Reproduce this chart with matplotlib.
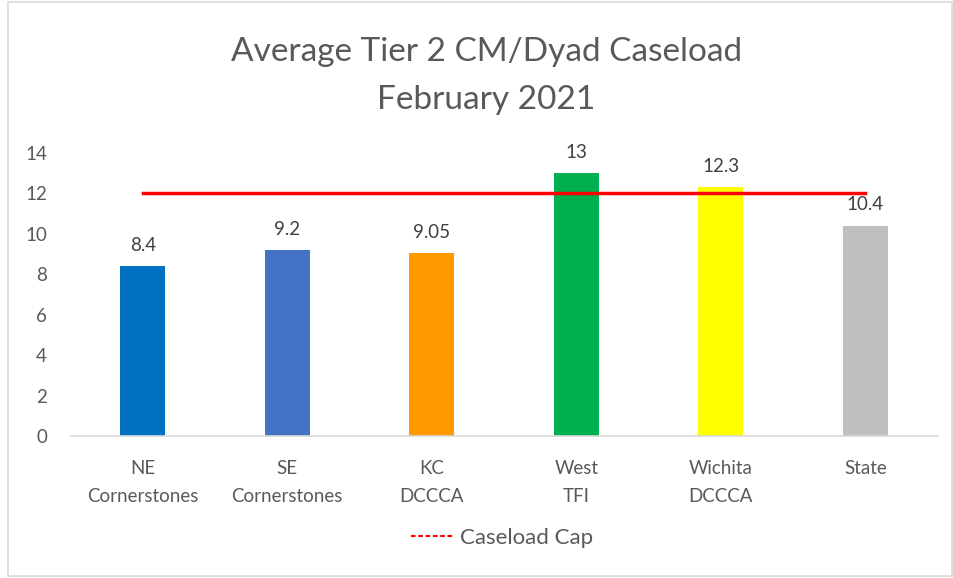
import matplotlib
matplotlib.use("Agg")
import matplotlib.pyplot as plt
from matplotlib.lines import Line2D
from matplotlib.patches import Rectangle

categories = ["NE\nCornerstones", "SE\nCornerstones", "KC\nDCCCA", "West\nTFI", "Wichita\nDCCCA", "State"]
values = [8.4, 9.2, 9.05, 13, 12.3, 10.4]
value_labels = ["8.4", "9.2", "9.05", "13", "12.3", "10.4"]
colors = ["#0070C0", "#4472C4", "#FF9900", "#00B050", "#FFFF00", "#BFBFBF"]
cap = 12
yticks = [0, 2, 4, 6, 8, 10, 12, 14]

plt.rcParams['font.family'] = ['Lato', 'DejaVu Sans']
txt = "#595959"

fig = plt.figure(figsize=(9.54, 5.78), dpi=100)
ax = fig.add_axes([0.0739, 0.2457, 0.909, 0.4900])

x = list(range(len(categories)))
ax.bar(x, values, width=0.31, color=colors, zorder=2)
for xi, v, lab in zip(x, values, value_labels):
    ax.text(xi, v + 0.6, lab, ha="center", va="bottom", fontsize=13.5, color="#404040")

ax.plot([x[0], x[-1]], [cap, cap], color="#FF0000", lw=2.5, zorder=3)

ax.set_xlim(-0.5, len(categories) - 0.5)
ax.set_ylim(0, 14)
ax.set_yticks(yticks)
ax.set_xticks(x)
ax.set_xticklabels(categories, fontsize=13.5, color=txt, linespacing=1.85)
ax.tick_params(axis="y", labelsize=13.5, labelcolor=txt, length=0, pad=17)
ax.tick_params(axis="x", length=0, pad=17)
for s in ["top", "right", "left"]:
    ax.spines[s].set_visible(False)
ax.spines["bottom"].set_color("#D9D9D9")
ax.spines["bottom"].set_linewidth(1.2)

fig.text(0.51, 0.91, "Average Tier 2 CM/Dyad Caseload", ha="center", va="center", fontsize=24, color=txt)
fig.text(0.51, 0.827, "February 2021", ha="center", va="center", fontsize=24, color=txt)

handle = Line2D([], [], color="#FF0000", lw=1.5, linestyle=(0, (2.2, 1.3)))
fig.legend([handle], ["Caseload Cap"], loc="center", bbox_to_anchor=(0.526, 0.07),
           frameon=False, fontsize=16, labelcolor=txt, handlelength=1.9, handletextpad=0.3)

fig.patches.append(Rectangle((0.008, 0.003), 0.99, 0.994, transform=fig.transFigure,
                             fill=False, edgecolor="#D9D9D9", lw=1.2))

fig.savefig("out.png", dpi=100)
